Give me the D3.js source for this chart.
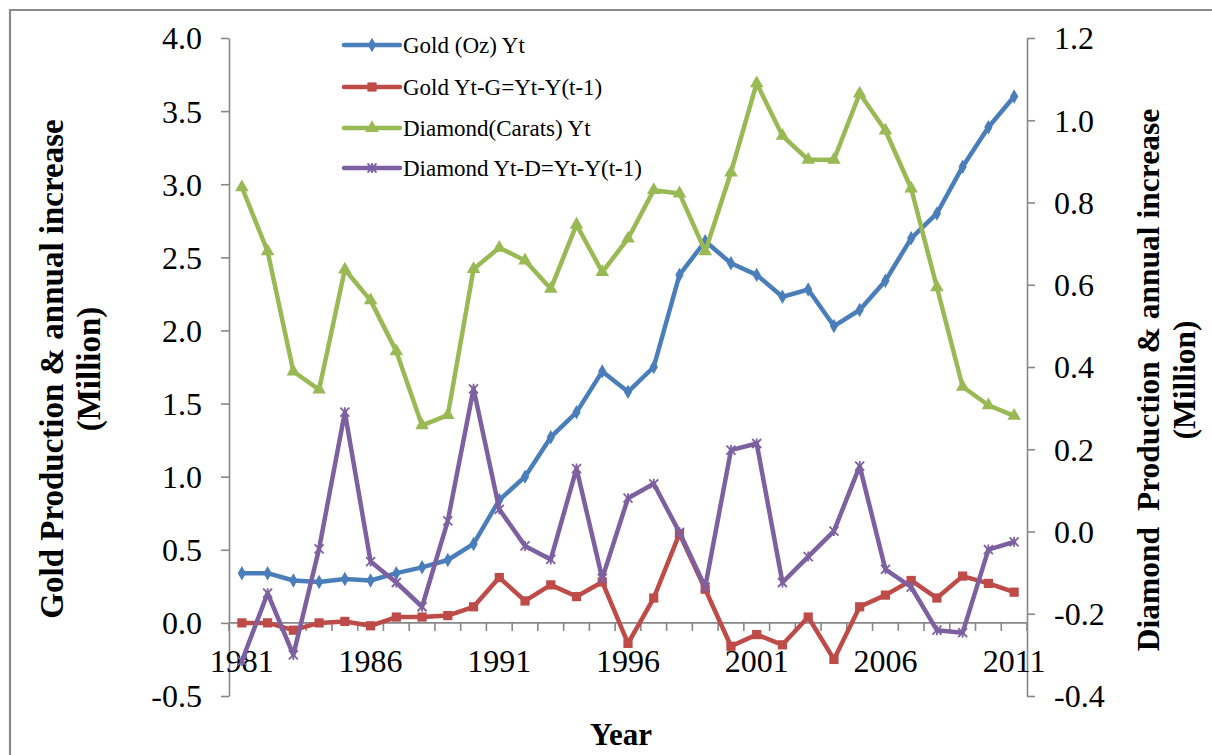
<!DOCTYPE html>
<html>
<head>
<meta charset="utf-8">
<script src="https://cdn.jsdelivr.net/npm/d3@7/dist/d3.min.js"></script>
<style>
  html, body { margin: 0; padding: 0; background: #fff; }
  svg { display: block; font-family: "Liberation Serif", "Times New Roman", serif; }
  svg text { font-family: "Liberation Serif", "Times New Roman", serif; }
</style>
</head>
<body>
<svg id="chart" width="1212" height="755"></svg>
<script>
// Years on the category axis
const years = d3.range(1981, 2012);
const yearLabels = [1981, 1986, 1991, 1996, 2001, 2006, 2011];

// Gold production (million oz), primary axis
const goldYt = [0.34, 0.34, 0.29, 0.28, 0.30, 0.29, 0.34, 0.38, 0.43, 0.54,
                0.84, 1.00, 1.27, 1.44, 1.72, 1.58, 1.75, 2.38, 2.61, 2.46,
                2.38, 2.23, 2.28, 2.03, 2.14, 2.34, 2.63, 2.80, 3.12, 3.39, 3.60];
// Annual change in gold production, primary axis
const goldG = [0.00, 0.00, -0.05, 0.00, 0.01, -0.02, 0.04, 0.04, 0.05, 0.11,
               0.31, 0.15, 0.26, 0.18, 0.28, -0.14, 0.17, 0.61, 0.23, -0.16,
               -0.08, -0.15, 0.04, -0.25, 0.11, 0.19, 0.29, 0.17, 0.32, 0.27, 0.21];
// Diamond production (million carats), secondary axis
const diamondYt = [0.837, 0.681, 0.389, 0.345, 0.637, 0.562, 0.438, 0.258, 0.283, 0.638,
                   0.690, 0.659, 0.590, 0.746, 0.631, 0.712, 0.830, 0.822, 0.681, 0.873,
                   1.090, 0.962, 0.904, 0.904, 1.065, 0.975, 0.834, 0.594, 0.352, 0.307, 0.281];
// Annual change in diamond production, secondary axis
const diamondD = [-0.315, -0.150, -0.300, -0.042, 0.290, -0.073, -0.124, -0.183, 0.026, 0.347,
                  0.054, -0.035, -0.068, 0.153, -0.114, 0.081, 0.116, -0.002, -0.135, 0.198,
                  0.214, -0.124, -0.061, 0.001, 0.159, -0.092, -0.135, -0.240, -0.246, -0.044, -0.025];

const leftTicks = [-0.5, 0, 0.5, 1, 1.5, 2, 2.5, 3, 3.5, 4];
const rightTicks = [-0.4, -0.2, 0, 0.2, 0.4, 0.6, 0.8, 1.0, 1.2];

const seriesNames = ["Gold (Oz) Yt", "Gold Yt-G=Yt-Y(t-1)", "Diamond(Carats) Yt", "Diamond Yt-D=Yt-Y(t-1)"];
const seriesColors = ["#4A7EBB", "#BE4B48", "#98B954", "#7D60A0"];

const svg = d3.select("#chart");
const axisColor = "#878787";
const serif = "Liberation Serif";

// outer frame of the chart object
svg.append("path")
  .attr("d", "M10,760 L10,10 L1300,10")
  .attr("fill", "none").attr("stroke", "#8a8a8a").attr("stroke-width", 2.2);

const plotLeft = 229, plotRight = 1027, plotTop = 38, plotBottom = 696;

const x = d3.scaleBand().domain(years).range([plotLeft, plotRight]);
const cx = d => x(d) + x.bandwidth() / 2;
const yL = d3.scaleLinear().domain([-0.5, 4]).range([plotBottom, plotTop]);
const yR = d3.scaleLinear().domain([-0.4, 1.2]).range([plotBottom, plotTop]);
const fmt = d => d.toFixed(1);

// primary (left) axis
const gL = svg.append("g").attr("transform", `translate(${plotLeft},0)`)
  .call(d3.axisLeft(yL).tickValues(leftTicks).tickSize(8).tickSizeOuter(0).tickFormat(fmt).tickPadding(19))
  .attr("font-family", serif);
gL.select(".domain").attr("stroke", axisColor).attr("stroke-width", 1.6);
gL.selectAll(".tick line").attr("stroke", axisColor).attr("stroke-width", 1.6);
gL.selectAll(".tick text").attr("font-size", 32).attr("fill", "#000").attr("dy", "0.34em");

// secondary (right) axis
const gR = svg.append("g").attr("transform", `translate(${plotRight},0)`)
  .call(d3.axisRight(yR).tickValues(rightTicks).tickSize(8).tickSizeOuter(0).tickFormat(fmt).tickPadding(19))
  .attr("font-family", serif);
gR.select(".domain").attr("stroke", axisColor).attr("stroke-width", 1.6);
gR.selectAll(".tick line").attr("stroke", axisColor).attr("stroke-width", 1.6);
gR.selectAll(".tick text").attr("font-size", 32).attr("fill", "#000").attr("dy", "0.34em");

// category axis crossing at zero on the primary scale
const y0 = yL(0);
const gX = svg.append("g").attr("font-family", serif);
gX.append("line").attr("x1", plotLeft).attr("x2", plotRight)
  .attr("y1", y0).attr("y2", y0).attr("stroke", axisColor).attr("stroke-width", 1.6);
const boundaries = years.map(d => x(d)).concat([plotRight]);
gX.selectAll("line.tk").data(boundaries).join("line").attr("class", "tk")
  .attr("x1", d => d).attr("x2", d => d).attr("y1", y0).attr("y2", y0 + 8)
  .attr("stroke", axisColor).attr("stroke-width", 1.6);
gX.selectAll("text").data(yearLabels).join("text")
  .attr("x", d => cx(d)).attr("y", y0 + 49).attr("text-anchor", "middle")
  .attr("font-size", 32).text(d => d);

// axis titles
svg.append("text").attr("x", 621).attr("y", 745).attr("text-anchor", "middle")
  .attr("font-size", 31).attr("font-weight", "bold").text("Year");

function rotatedTitle(px, py, size, text) {
  svg.append("text").attr("transform", `translate(${px},${py}) rotate(-90)`)
    .attr("text-anchor", "middle").attr("dy", "0.35em")
    .attr("font-size", size).attr("font-weight", "bold")
    .style("white-space", "pre").text(text);
}
rotatedTitle(51, 369, 33, "Gold Production & annual increase");
rotatedTitle(88, 369, 33, "(Million)");
rotatedTitle(1148, 380, 31.5, "Diamond  Production & annual increase");
rotatedTitle(1184, 380, 31.5, "(Million)");

// marker shapes
const markerPath = [
  d3.symbol().type(d3.symbolDiamond).size(60)(),
  d3.symbol().type(d3.symbolSquare).size(85)(),
  d3.symbol().type(d3.symbolTriangle).size(80)(),
  "M-4.5,-4.5L4.5,4.5M-4.5,4.5L4.5,-4.5M0,-5L0,5"
];
function drawMarker(g, i, px, py) {
  const p = g.append("path").attr("d", markerPath[i]).attr("transform", `translate(${px},${py})`);
  if (i === 3) p.attr("fill", "none").attr("stroke", seriesColors[i]).attr("stroke-width", 1.8);
  else p.attr("fill", seriesColors[i]);
}

const series = [
  { values: goldYt, y: yL },
  { values: goldG, y: yL },
  { values: diamondYt, y: yR },
  { values: diamondD, y: yR }
];

series.forEach((s, i) => {
  const pts = years.map((yr, k) => [cx(yr), s.y(s.values[k])]);
  const g = svg.append("g");
  g.append("path").attr("d", d3.line()(pts))
    .attr("fill", "none").attr("stroke", seriesColors[i]).attr("stroke-width", 4.5)
    .attr("stroke-linejoin", "round").attr("stroke-linecap", "round");
  pts.forEach(p => drawMarker(g, i, p[0], p[1]));
});

// legend
const legend = svg.append("g").attr("font-family", serif);
const legendY = [45, 87, 128, 168];
seriesNames.forEach((name, i) => {
  const ly = legendY[i];
  legend.append("line").attr("x1", 344).attr("x2", 400).attr("y1", ly).attr("y2", ly)
    .attr("stroke", seriesColors[i]).attr("stroke-width", 4.5).attr("stroke-linecap", "round");
  drawMarker(legend, i, 372, ly);
  legend.append("text").attr("x", 403).attr("y", ly + 8).attr("font-size", 23).text(name);
});
</script>
</body>
</html>
